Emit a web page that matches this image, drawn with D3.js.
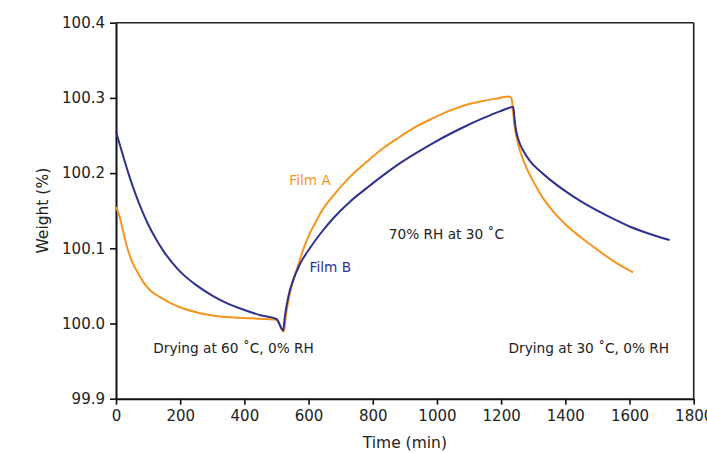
<!DOCTYPE html>
<html>
<head>
<meta charset="utf-8">
<script src="https://cdn.jsdelivr.net/npm/d3@7"></script>
<style>
  html, body { margin: 0; padding: 0; background: #ffffff; }
  svg { display: block; font-family: "DejaVu Sans", sans-serif; }
</style>
</head>
<body>
<svg id="chart" width="707" height="453"></svg>
<script>
// ---- data ----
const filmATime = [0, 12, 23, 33, 44, 56, 70, 85, 110, 137, 170, 210, 250, 282, 330, 365, 420, 469, 500,
  523, 529, 537, 547, 563, 583, 604, 625, 640, 677, 729, 781, 832, 884, 936, 988, 1040, 1092, 1144, 1196, 1222, 1232,
  1236, 1241, 1248, 1260, 1280, 1300, 1330, 1360, 1400, 1450, 1500, 1550, 1611];
const filmAWeight = [100.155, 100.141, 100.121, 100.104, 100.089, 100.077, 100.066, 100.055, 100.043, 100.035, 100.027, 100.020, 100.015, 100.012, 100.009, 100.008, 100.007, 100.006, 100.005,
  99.989, 100.009, 100.030, 100.049, 100.071, 100.098, 100.120, 100.137, 100.149, 100.170, 100.195, 100.215, 100.233, 100.248, 100.262, 100.273, 100.283, 100.291, 100.296, 100.300, 100.302, 100.300,
  100.288, 100.265, 100.248, 100.228, 100.206, 100.189, 100.167, 100.150, 100.132, 100.114, 100.098, 100.083, 100.068];

const filmBTime = [0, 20, 40, 60, 80, 100, 125, 150, 175, 200, 250, 300, 350, 400, 450, 500,
  521, 526, 537, 552, 573, 604, 636, 677, 729, 781, 832, 884, 936, 988, 1040, 1092, 1144, 1196, 1238,
  1241, 1246, 1255, 1270, 1290, 1320, 1350, 1400, 1450, 1500, 1550, 1600, 1650, 1700, 1725];
const filmBWeight = [100.255, 100.226, 100.198, 100.173, 100.151, 100.132, 100.112, 100.095, 100.081, 100.069, 100.051, 100.037, 100.026, 100.018, 100.011, 100.006,
  99.991, 100.009, 100.036, 100.058, 100.079, 100.100, 100.119, 100.140, 100.162, 100.180, 100.197, 100.213, 100.227, 100.240, 100.252, 100.263, 100.273, 100.282, 100.288,
  100.275, 100.258, 100.243, 100.229, 100.216, 100.203, 100.192, 100.176, 100.162, 100.150, 100.139, 100.129, 100.121, 100.114, 100.111];

const xTicks = [0, 200, 400, 600, 800, 1000, 1200, 1400, 1600, 1800];
const yTicks = [99.9, 100.0, 100.1, 100.2, 100.3, 100.4];
const yTickLabels = ["99.9", "100.0", "100.1", "100.2", "100.3", "100.4"];

const seriesNames = ["Film A", "Film B"];
const seriesColors = ["#F7941D", "#2E3192"];

const annotations = [
  { text: "Drying at 60 ˚C, 0% RH", t: 116, w: 99.961 },
  { text: "70% RH at 30 ˚C", t: 850, w: 100.112 },
  { text: "Drying at 30 ˚C, 0% RH", t: 1223, w: 99.961 }
];
const seriesLabels = [
  { text: "Film A", t: 540, w: 100.184, color: "#F7941D" },
  { text: "Film B", t: 603, w: 100.068, color: "#2E3192" }
];

// ---- layout ----
const margin = { left: 116, top: 22.7, right: 707 - 693.7, bottom: 453 - 398.7 };
const W = 707, H = 453;
const innerW = W - margin.left - margin.right;
const innerH = H - margin.top - margin.bottom;

const svg = d3.select("#chart");
const g = svg.append("g").attr("transform", `translate(${margin.left},${margin.top})`);

const x = d3.scaleLinear().domain([0, 1800]).range([0, innerW]);
const y = d3.scaleLinear().domain([99.9, 100.4]).range([innerH, 0]);

// frame (top/right)
g.append("line").attr("x1", 0).attr("x2", innerW).attr("y1", 0).attr("y2", 0)
  .attr("stroke", "#222").attr("stroke-width", 1.6);
g.append("line").attr("x1", innerW).attr("x2", innerW).attr("y1", 0).attr("y2", innerH)
  .attr("stroke", "#222").attr("stroke-width", 1.6);

// axes
const xAxis = g.append("g").attr("transform", `translate(0,${innerH})`)
  .call(d3.axisBottom(x).tickValues(xTicks).tickSize(6).tickSizeOuter(0).tickPadding(6).tickFormat(d3.format("d")));
const yAxis = g.append("g")
  .call(d3.axisLeft(y).tickValues(yTicks).tickSize(6).tickSizeOuter(0).tickPadding(5)
    .tickFormat((d, i) => yTickLabels[i]));

[xAxis, yAxis].forEach(a => {
  a.select(".domain").attr("stroke", "#111").attr("stroke-width", 2);
  a.selectAll(".tick line").attr("stroke", "#111").attr("stroke-width", 1.6);
  a.selectAll(".tick text").attr("fill", "#222").style("font-size", "15px")
    .style("font-family", "'DejaVu Sans', sans-serif");
});

// axis titles
svg.append("text").attr("x", margin.left + x(900)).attr("y", 448)
  .attr("text-anchor", "middle").attr("fill", "#222").style("font-size", "15.5px").text("Time (min)");
svg.append("text").attr("transform", `translate(48,${margin.top + y(100.15)}) rotate(-90)`)
  .attr("text-anchor", "middle").attr("fill", "#222").style("font-size", "15.5px").text("Weight (%)");

// lines
const line = d3.line().x(d => x(d[0])).y(d => y(d[1])).curve(d3.curveMonotoneX);
const seriesData = [
  d3.zip(filmATime, filmAWeight),
  d3.zip(filmBTime, filmBWeight)
];
seriesData.forEach((data, i) => {
  g.append("path").datum(data)
    .attr("fill", "none")
    .attr("stroke", seriesColors[i])
    .attr("stroke-width", 2)
    .attr("stroke-linejoin", "round")
    .attr("d", line);
});

// labels
annotations.forEach(a => {
  g.append("text").attr("x", x(a.t)).attr("y", y(a.w))
    .attr("fill", "#222").style("font-size", "13.7px").text(a.text);
});
seriesLabels.forEach(a => {
  g.append("text").attr("x", x(a.t)).attr("y", y(a.w))
    .attr("fill", a.color).style("font-size", "13.7px").text(a.text);
});
</script>
</body>
</html>
